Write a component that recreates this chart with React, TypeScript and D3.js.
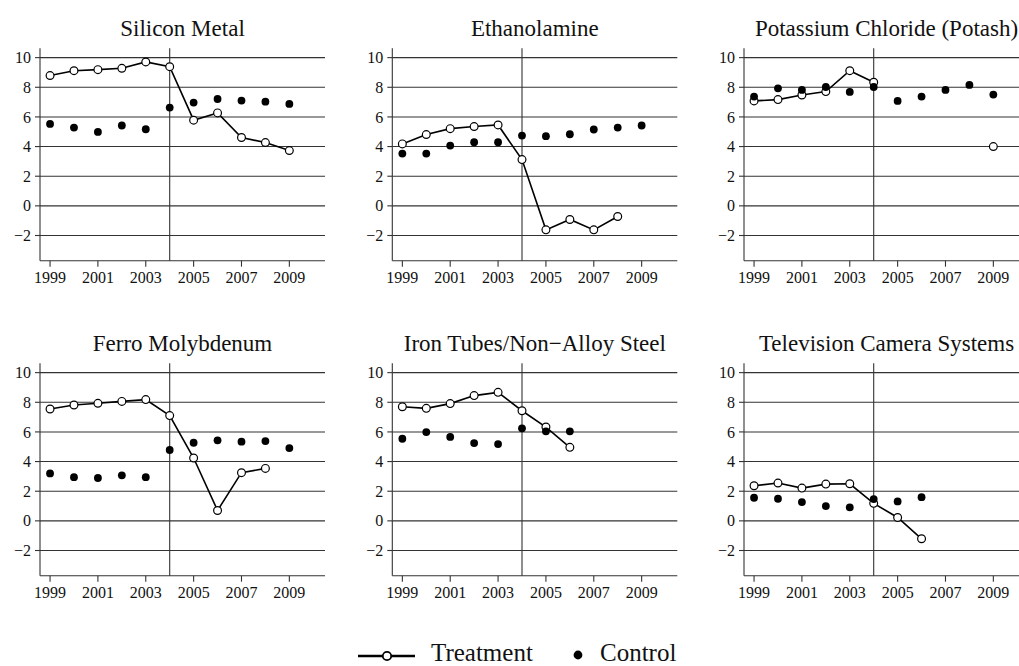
import React from "react";
import * as d3 from "d3";

const years = [1999, 2000, 2001, 2002, 2003, 2004, 2005, 2006, 2007, 2008, 2009];
const xTickValues = [1999, 2001, 2003, 2005, 2007, 2009];
const yTickValues = [-2, 0, 2, 4, 6, 8, 10];
const policyYear = 2004;

const panelTitles = [
  "Silicon Metal",
  "Ethanolamine",
  "Potassium Chloride (Potash)",
  "Ferro Molybdenum",
  "Iron Tubes/Non\u2212Alloy Steel",
  "Television Camera Systems",
];

const siliconTreatment = [8.79, 9.12, 9.19, 9.28, 9.71, 9.39, 5.78, 6.27, 4.61, 4.27, 3.73];
const siliconControl = [5.53, 5.28, 4.99, 5.42, 5.17, 6.63, 6.97, 7.21, 7.10, 7.03, 6.88];
const ethanolTreatment = [4.18, 4.81, 5.21, 5.35, 5.46, 3.12, -1.62, -0.92, -1.62, -0.72, null];
const ethanolControl = [3.53, 3.53, 4.07, 4.29, 4.29, 4.74, 4.70, 4.83, 5.15, 5.28, 5.42];
const potashTreatment = [7.08, 7.17, 7.48, 7.71, 9.12, 8.34, null, null, null, null, 4.0];
const potashControl = [7.37, 7.93, 7.82, 8.02, 7.69, 8.02, 7.08, 7.37, 7.82, 8.16, 7.51];
const ferroTreatment = [7.55, 7.82, 7.93, 8.06, 8.18, 7.10, 4.24, 0.70, 3.25, 3.54, null];
const ferroControl = [3.20, 2.95, 2.89, 3.07, 2.95, 4.78, 5.27, 5.43, 5.34, 5.38, 4.91];
const ironTreatment = [7.70, 7.59, 7.91, 8.45, 8.67, 7.43, 6.33, 4.96, null, null, null];
const ironControl = [5.54, 5.99, 5.66, 5.25, 5.18, 6.24, 6.04, 6.04, null, null, null];
const tvTreatment = [2.37, 2.55, 2.21, 2.48, 2.50, 1.18, 0.23, -1.21, null, null, null];
const tvControl = [1.56, 1.49, 1.27, 1.00, 0.91, 1.47, 1.31, 1.60, null, null, null];

const treatmentSeries = [siliconTreatment, ethanolTreatment, potashTreatment, ferroTreatment, ironTreatment, tvTreatment];
const controlSeries = [siliconControl, ethanolControl, potashControl, ferroControl, ironControl, tvControl];

const W = 1019;
const H = 666;
const FONT = "'Liberation Serif', 'Times New Roman', Times, serif";
const colOffsets = [0, 352.3, 704];
const rowOffsets = [0, 315];

const xScale = d3.scaleLinear().domain([1998.58, 2010.49]).range([40, 325]);
const yScale = d3.scaleLinear().domain([-3.7, 10.63]).range([260.7, 48.3]);

type Pt = { year: number; v: number | null };

function Panel({ idx }: { idx: number }) {
  const ox = colOffsets[idx % 3];
  const oy = rowOffsets[Math.floor(idx / 3)];
  const [x0, x1] = xScale.range();
  const [yb, yt] = yScale.range();
  const tPts: Pt[] = years.map((y, i) => ({ year: y, v: treatmentSeries[idx][i] }));
  const cPts: Pt[] = years.map((y, i) => ({ year: y, v: controlSeries[idx][i] }));
  const line = d3
    .line<Pt>()
    .defined((d) => d.v !== null)
    .x((d) => xScale(d.year))
    .y((d) => yScale(d.v as number));
  const gridColor = "#333";
  return (
    <g transform={`translate(${ox},${oy})`}>
      <text x={(x0 + x1) / 2} y={36} textAnchor="middle" fontFamily={FONT} fontSize={23} fill="#111">
        {panelTitles[idx]}
      </text>
      {yTickValues.map((t) => (
        <g key={"y" + t}>
          <line x1={x0} x2={x1} y1={yScale(t)} y2={yScale(t)} stroke={gridColor} strokeWidth={1.1} />
          <line x1={x0 - 5} x2={x0} y1={yScale(t)} y2={yScale(t)} stroke={gridColor} strokeWidth={1.1} />
          <text x={x0 - 9} y={yScale(t)} dy="0.35em" textAnchor="end" fontFamily={FONT} fontSize={16} fill="#111">
            {t < 0 ? "\u2212" + Math.abs(t) : String(t)}
          </text>
        </g>
      ))}
      {xTickValues.map((t) => (
        <g key={"x" + t}>
          <line x1={xScale(t)} x2={xScale(t)} y1={yb} y2={yb + 6} stroke={gridColor} strokeWidth={1.1} />
          <text x={xScale(t)} y={283} textAnchor="middle" fontFamily={FONT} fontSize={16} fill="#111">
            {t}
          </text>
        </g>
      ))}
      <line x1={x0} x2={x0} y1={yt} y2={yb} stroke={gridColor} strokeWidth={1.1} />
      <line x1={x0} x2={x1} y1={yb} y2={yb} stroke={gridColor} strokeWidth={1.1} />
      <line x1={xScale(policyYear)} x2={xScale(policyYear)} y1={yt} y2={yb} stroke={gridColor} strokeWidth={1.1} />
      <path d={line(tPts) || ""} fill="none" stroke="#000" strokeWidth={1.6} />
      {tPts
        .filter((d) => d.v !== null)
        .map((d) => (
          <circle key={"t" + d.year} cx={xScale(d.year)} cy={yScale(d.v as number)} r={3.9} fill="#fff" stroke="#000" strokeWidth={1.2} />
        ))}
      {cPts
        .filter((d) => d.v !== null)
        .map((d) => (
          <circle key={"c" + d.year} cx={xScale(d.year)} cy={yScale(d.v as number)} r={3.9} fill="#000" />
        ))}
    </g>
  );
}

export default function App() {
  return (
    <svg width={W} height={H} style={{ position: "absolute", left: 0, top: 0, background: "#fff" }}>
      <rect x={0} y={0} width={W} height={H} fill="#fff" />
      {panelTitles.map((_, i) => (
        <Panel key={i} idx={i} />
      ))}
      <g>
        <line x1={358} x2={415} y1={656} y2={656} stroke="#000" strokeWidth={2.4} />
        <circle cx={387} cy={656} r={4.2} fill="#fff" stroke="#000" strokeWidth={1.8} />
        <text x={431} y={661} fontFamily={FONT} fontSize={25} fill="#111">Treatment</text>
        <circle cx={578} cy={655} r={4.4} fill="#000" />
        <text x={600} y={661} fontFamily={FONT} fontSize={25} fill="#111">Control</text>
      </g>
    </svg>
  );
}
